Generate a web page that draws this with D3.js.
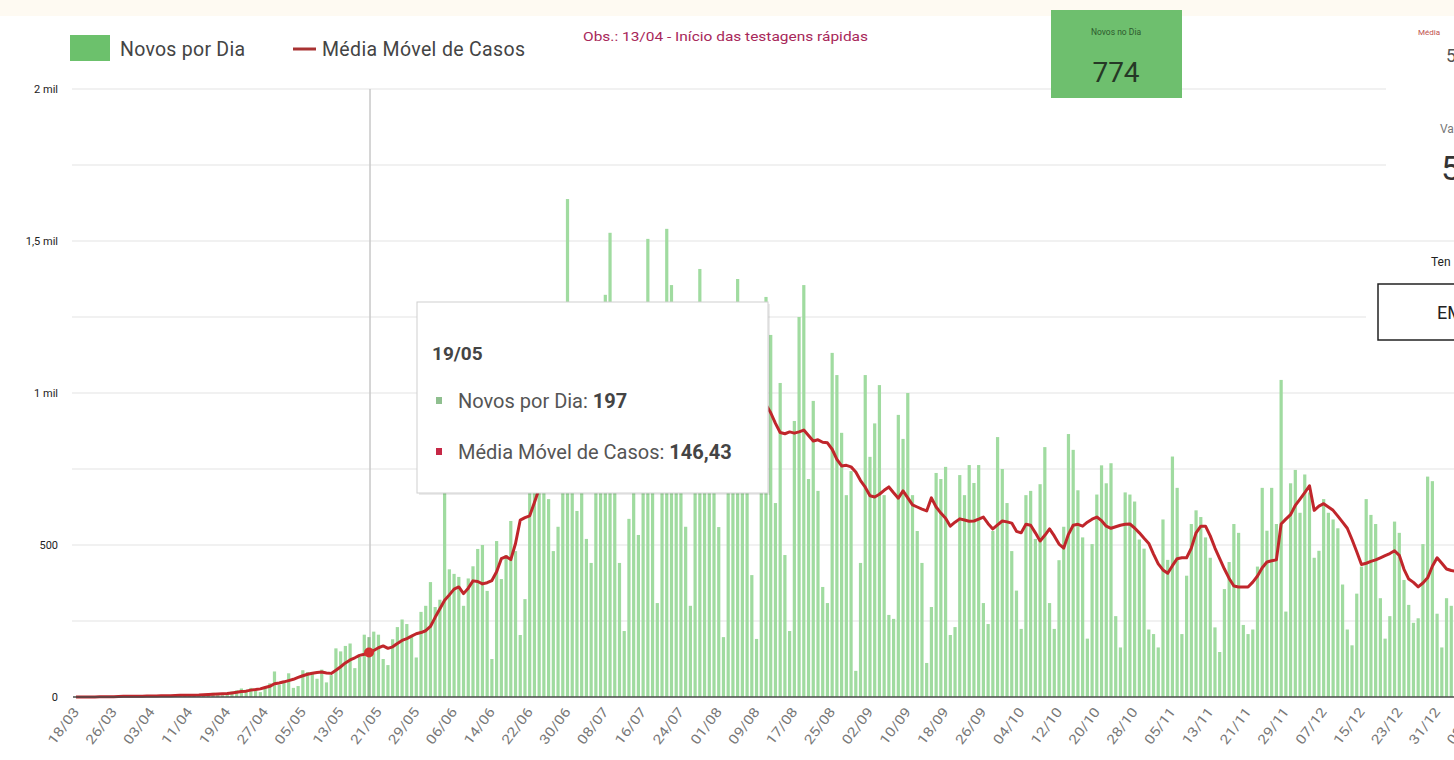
<!DOCTYPE html>
<html>
<head>
<meta charset="utf-8">
<script src="https://cdn.jsdelivr.net/npm/d3@7"></script>
<style>
  body { margin: 0; background: #fff; }
  svg { display: block; font-family: Roboto, "Noto Sans", sans-serif; }
</style>
</head>
<body>
<div id="chart"></div>
<script>

//************************  data *************************

// first day of the series, one bar per day after it
var startDay = new Date(2020, 2, 18);
var nDays = 300;

// Novos por Dia
var novosPorDia = [
    0,1,0,0,1,2,1,
    2,1,3,4,1,2,3,
    3,4,2,5,3,2,6,
    4,6,8,3,5,7,9,
    10,14,8,6,12,18,22,
    28,24,30,20,16,32,45,
    84,40,52,78,30,36,88,
    82,76,60,90,48,72,160,
    150,168,176,95,132,205,197,
    215,205,125,105,190,230,255,
    240,200,130,280,300,378,296,
    320,680,420,405,395,300,390,
    430,487,500,349,125,513,388,
    467,579,480,204,322,704,678,
    880,940,651,480,560,980,1638,
    1050,612,980,520,441,1100,1200,
    1323,1527,1080,441,217,586,1150,
    533,1220,1507,960,309,900,1540,
    1355,1050,980,560,300,1000,1408,
    1120,1050,1180,559,197,950,1020,
    1375,1100,1150,401,191,1050,1316,
    1191,638,1033,467,217,908,1250,
    1355,717,974,678,362,309,1132,
    1059,869,664,743,86,441,1059,
    790,900,1026,664,270,257,928,
    849,1000,664,546,441,112,296,
    737,717,757,204,230,730,664,
    763,704,763,309,240,546,855,
    750,638,480,350,224,664,678,
    520,700,822,309,224,450,560,
    865,813,680,525,192,503,666,
    762,703,769,266,163,673,666,
    643,518,488,222,207,163,584,
    451,791,688,207,399,569,614,
    592,525,458,229,148,355,444,
    569,540,237,207,222,429,688,
    547,688,569,1043,281,703,747,
    606,732,673,458,481,651,606,
    584,555,370,222,170,340,429,
    651,599,569,325,192,266,577,
    540,385,303,244,259,503,725,
    710,274,163,325,300,480,520
];

// Média Móvel de Casos
var mediaMovel = [
    0.1,0.3,0.3,0.3,0.4,0.6,0.7,
    0.9,1.1,1.6,2.1,2.1,2.3,2.6,
    2.7,3.1,3.4,3.6,3.9,4.1,4.3,
    4.9,5.6,6.1,6.1,6.1,6.4,7.3,
    8,9,9.6,10.3,11.3,13.3,15.3,
    17.9,19.3,22.6,24.4,26.7,31.3,35.1,
    43.6,46.3,49.9,54,58.3,64.3,70,
    74.9,78,80.6,82,79,77.7,88,
    99.4,112,122,129,136.9,140.6,146.43,
    153,162,168,160,165,176,186,
    192,200,208,212,218,232,262,
    290,318,336,355,362,340,358,
    382,380,372,376,383,412,455,
    462,452,505,582,590,596,640,
    685,700,712,725,740,760,790,
    812,825,838,846,842,850,866,
    880,905,918,912,905,910,925,
    935,948,960,955,948,940,952,
    968,975,980,970,955,960,972,
    985,990,992,980,968,960,958,
    970,982,990,985,970,962,961,
    935,900,870,866,872,868,872,
    878,860,842,846,838,836,815,
    782,760,762,757,740,712,690,
    662,658,667,680,691,672,654,
    678,655,632,625,618,612,655,
    625,605,588,562,575,586,582,
    578,579,585,592,570,553,566,
    579,576,572,545,540,568,565,
    540,513,532,553,530,503,490,
    535,565,568,562,575,585,592,
    580,562,555,560,565,568,569,
    556,540,522,505,470,438,418,
    407,432,455,458,458,490,540,
    562,562,530,490,455,421,390,
    365,362,362,362,378,398,425,
    444,448,451,569,585,600,630,
    651,672,695,614,628,636,625,
    614,595,575,555,518,478,436,
    440,446,451,458,465,472,481,
    466,420,388,377,362,375,392,
    430,458,440,421,416,414,410
];

var yTicks = [250, 500, 750, 1000, 1250, 1500, 1750, 2000];
var yLabels = {0: "0", 500: "500", 1000: "1 mil", 1500: "1,5 mil", 2000: "2 mil"};
var tickEvery = 8;
var selectedDay = 62;   // 19/05, the hovered day
var novosNoDia = 774;

var fmtDay = d3.timeFormat("%d/%m");
var days = d3.range(nDays).map(function(i){
    return fmtDay(d3.timeDay.offset(startDay, i));
});


//************************  chart *************************

var width = 1454, height = 760;
var step = 4.726;
var x0 = 76;

var svg = d3.select("#chart").append("svg")
    .attr("width", width)
    .attr("height", height);

// faint band of the dashboard header
svg.append("rect")
    .attr("x", 0).attr("y", 0)
    .attr("width", width).attr("height", 16)
    .attr("fill", "#fefaf2");

var x = d3.scaleBand()
    .domain(d3.range(nDays))
    .range([x0 - step / 2, x0 - step / 2 + nDays * step])
    .paddingInner(0.32)
    .paddingOuter(0.16);

var y = d3.scaleLinear()
    .domain([0, 2000])
    .range([697, 89]);

// grid
svg.append("g").attr("class", "grid")
    .selectAll("line")
    .data(yTicks)
    .enter().append("line")
    .attr("x1", 72).attr("x2", width)
    .attr("y1", function(d){ return y(d); })
    .attr("y2", function(d){ return y(d); })
    .attr("stroke", "#e3e3e3")
    .attr("stroke-width", 1.2);

// y labels
svg.append("g").attr("class", "y-labels")
    .selectAll("text")
    .data([0, 500, 1000, 1500, 2000])
    .enter().append("text")
    .attr("x", 58)
    .attr("y", function(d){ return y(d); })
    .attr("dy", "0.35em")
    .attr("text-anchor", "end")
    .attr("font-size", 11)
    .attr("fill", "#222")
    .text(function(d){ return yLabels[d]; });

// crosshair at the hovered day
svg.append("line")
    .attr("x1", x(selectedDay) + x.bandwidth() / 2 + 1)
    .attr("x2", x(selectedDay) + x.bandwidth() / 2 + 1)
    .attr("y1", y(2000)).attr("y2", y(0))
    .attr("stroke", "#c8c8c8")
    .attr("stroke-width", 1.5);

// bars
svg.append("g").attr("class", "bars")
    .selectAll("rect")
    .data(novosPorDia)
    .enter().append("rect")
    .attr("x", function(d, i){ return x(i); })
    .attr("y", function(d){ return y(d); })
    .attr("width", x.bandwidth())
    .attr("height", function(d){ return y(0) - y(d); })
    .attr("fill", function(d, i){ return i === selectedDay ? "#8fbf8f" : "#a0dba0"; });

// moving average
var line = d3.line()
    .x(function(d, i){ return x(i) + x.bandwidth() / 2; })
    .y(function(d){ return y(d); });

svg.append("path")
    .datum(mediaMovel)
    .attr("d", line)
    .attr("fill", "none")
    .attr("stroke", "#c0262b")
    .attr("stroke-width", 3)
    .attr("stroke-linejoin", "round");

svg.append("circle")
    .attr("cx", x(selectedDay) + x.bandwidth() / 2)
    .attr("cy", y(mediaMovel[selectedDay]))
    .attr("r", 5)
    .attr("fill", "#d32f2f");

// x axis
svg.append("line")
    .attr("x1", 73).attr("x2", width)
    .attr("y1", y(0)).attr("y2", y(0))
    .attr("stroke", "#4a4a4a")
    .attr("stroke-width", 1.5);

var xAxis = d3.axisBottom(x)
    .tickValues(d3.range(0, nDays, tickEvery))
    .tickSize(0)
    .tickFormat(function(i){ return days[i]; });

var gx = svg.append("g")
    .attr("class", "x-axis")
    .attr("transform", "translate(0," + y(0) + ")")
    .call(xAxis);
gx.select(".domain").remove();
gx.selectAll("text")
    .attr("font-size", 13.5)
    .attr("font-family", "Roboto, sans-serif")
    .attr("fill", "#777")
    .attr("text-anchor", "end")
    .attr("x", 0)
    .attr("y", 0)
    .attr("dy", "0.35em")
    .attr("textLength", 42)
    .attr("lengthAdjust", "spacingAndGlyphs")
    .attr("transform", "translate(0,12) rotate(-53)");


//************************  legend & notes *************************

var legend = svg.append("g").attr("class", "legend");
legend.append("rect")
    .attr("x", 70).attr("y", 35)
    .attr("width", 40).attr("height", 26)
    .attr("fill", "#6cc16c");
legend.append("text")
    .attr("x", 120).attr("y", 56)
    .attr("font-size", 19.5).attr("fill", "#444")
    .attr("textLength", 125)
    .text("Novos por Dia");
legend.append("line")
    .attr("x1", 293).attr("x2", 316)
    .attr("y1", 49).attr("y2", 49)
    .attr("stroke", "#a83232").attr("stroke-width", 3);
legend.append("text")
    .attr("x", 322).attr("y", 56)
    .attr("font-size", 19.5).attr("fill", "#444")
    .attr("textLength", 203)
    .text("Média Móvel de Casos");

svg.append("text")
    .attr("x", 583).attr("y", 41)
    .attr("font-size", 13)
    .attr("fill", "#a8285a")
    .attr("textLength", 285)
    .attr("lengthAdjust", "spacingAndGlyphs")
    .text("Obs.: 13/04 - Início das testagens rápidas");

// card "Novos no Dia"
svg.append("rect")
    .attr("x", 1051).attr("y", 10)
    .attr("width", 131).attr("height", 88)
    .attr("fill", "#6ebf6e");
svg.append("text")
    .attr("x", 1116).attr("y", 35)
    .attr("text-anchor", "middle")
    .attr("font-size", 8.5).attr("fill", "#2d5a2d")
    .text("Novos no Dia");
svg.append("text")
    .attr("x", 1116).attr("y", 82)
    .attr("text-anchor", "middle")
    .attr("font-size", 28).attr("fill", "#263826")
    .text(novosNoDia);

// right hand cards, cut by the frame
svg.append("rect").attr("x", 1386).attr("y", 20).attr("width", 70).attr("height", 185).attr("fill", "#fff");
svg.append("rect").attr("x", 1366).attr("y", 255).attr("width", 90).attr("height", 92).attr("fill", "#fff");
svg.append("text").attr("x", 1418).attr("y", 35).attr("font-size", 8).attr("fill", "#c0504d").text("Média");
svg.append("text").attr("x", 1446).attr("y", 62).attr("font-size", 18).attr("fill", "#555").text("5");
svg.append("text").attr("x", 1440).attr("y", 133).attr("font-size", 12).attr("fill", "#777").text("Va");
svg.append("text").attr("x", 1441).attr("y", 180).attr("font-size", 34).attr("fill", "#333").text("5");
svg.append("text").attr("x", 1431).attr("y", 266).attr("font-size", 12).attr("fill", "#222").text("Ten");
svg.append("rect")
    .attr("x", 1378).attr("y", 284)
    .attr("width", 90).attr("height", 56)
    .attr("fill", "#fff").attr("stroke", "#222").attr("stroke-width", 1.5);
svg.append("text").attr("x", 1437).attr("y", 319).attr("font-size", 18).attr("fill", "#222").text("EM");


//************************  tooltip *************************

var fmtNum = d3.formatLocale({decimal: ",", thousands: ".", grouping: [3], currency: ["R$", ""]});

var tip = svg.append("g").attr("class", "tooltip");
tip.append("rect")
    .attr("x", 419).attr("y", 304)
    .attr("width", 351).attr("height", 191)
    .attr("fill", "#000").attr("opacity", 0.08);
tip.append("rect")
    .attr("x", 417).attr("y", 302)
    .attr("width", 351).attr("height", 191)
    .attr("fill", "#fff").attr("stroke", "#d0d0d0");
tip.append("text")
    .attr("x", 432).attr("y", 360)
    .attr("font-size", 19).attr("font-weight", "bold").attr("fill", "#444")
    .text(days[selectedDay]);
tip.append("rect")
    .attr("x", 436).attr("y", 397).attr("width", 6).attr("height", 7)
    .attr("fill", "#8fbf8f");
var t1 = tip.append("text")
    .attr("x", 458).attr("y", 408)
    .attr("font-size", 20).attr("fill", "#555");
t1.append("tspan").text("Novos por Dia: ");
t1.append("tspan").attr("font-weight", "bold").attr("fill", "#444")
    .text(novosPorDia[selectedDay]);
tip.append("rect")
    .attr("x", 436).attr("y", 448).attr("width", 6).attr("height", 7)
    .attr("fill", "#c62846");
var t2 = tip.append("text")
    .attr("x", 458).attr("y", 459)
    .attr("font-size", 20).attr("fill", "#555");
t2.append("tspan").text("Média Móvel de Casos: ");
t2.append("tspan").attr("font-weight", "bold").attr("fill", "#444")
    .text(fmtNum.format(",.2f")(mediaMovel[selectedDay]));

</script>
</body>
</html>
